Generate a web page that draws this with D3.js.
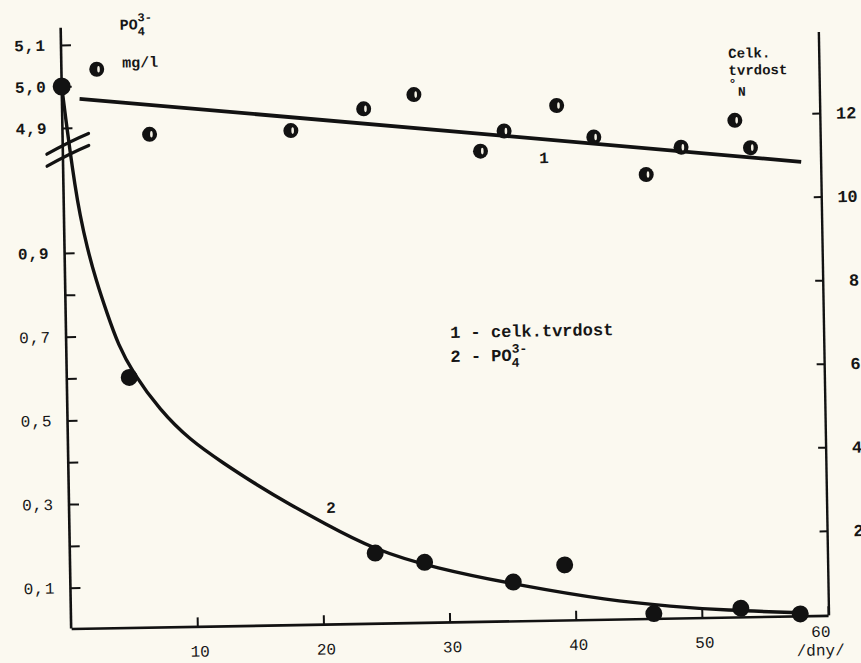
<!DOCTYPE html>
<html>
<head>
<meta charset="utf-8">
<script src="https://cdn.jsdelivr.net/npm/d3@7/dist/d3.min.js"></script>
<style>
  body { margin: 0; background: #fbf9f0; }
  svg { display: block; }
  text { font-family: 'Liberation Mono', 'DejaVu Sans Mono', monospace; fill: #161616; }
</style>
</head>
<body>
<div id="chart-area"></div>
<script>
// series 1 - celk. tvrdost (right axis, degN)
var days1 = [2.8, 6.9, 18.1, 23.9, 27.9, 33.1, 35.0, 39.2, 42.1, 46.2, 49.0, 53.3, 54.5]
var hardness = [13.35, 11.77, 11.8, 12.29, 12.61, 11.23, 11.7, 12.29, 11.52, 10.6, 11.24, 11.86, 11.2]

// straight line 1 (end points)
var lineDays1 = [1.4, 58.5]
var lineHard1 = [12.65, 10.84]

// series 2 - PO4 mg/l (left, broken axis)
var days2 = [0, 4.95, 24.2, 28.1, 35.1, 39.2, 46.2, 53.1, 57.8]
var po4 = [5.0, 0.6, 0.17, 0.146, 0.095, 0.134, 0.014, 0.023, 0.007]

// hand drawn curve 2 (values between 0.9 and 4.9 fall in the axis break)
var curveDays2 = [0, 0.29, 0.56, 0.91, 1.27, 1.78, 2.45, 3.27, 4.14, 5.21, 7.32, 9.67, 12.26, 14.9, 17.5, 20.1, 24.0, 28.8, 35.9, 42.5, 47.7, 51.7, 58.3]
var curvePo4 = [5.0, 4.919, 4.19, 3.07, 2.11, 1.08, 0.834, 0.755, 0.677, 0.613, 0.521, 0.448, 0.392, 0.338, 0.29, 0.245, 0.18, 0.132, 0.085, 0.048, 0.03, 0.019, 0.009]

// ticks
var xTicks = [10, 20, 30, 40, 50, 60]
var leftTicks = [0.1, 0.2, 0.3, 0.4, 0.5, 0.6, 0.7, 0.8, 0.9, 4.9, 5.0, 5.1]
var leftLabels = [0.1, 0.3, 0.5, 0.7, 0.9, 4.9, 5.0, 5.1]
var rightTicks = [2, 4, 6, 8, 10, 12]

var W = 861
var H = 663
var ink = '#121212'

var svg = d3.select('#chart-area')
  .append('svg')
  .attr('width', W)
  .attr('height', H)

svg.append('rect')
  .attr('width', W)
  .attr('height', H)
  .attr('fill', '#fbf9f0')

// the scanned page sits a little crooked
var g = svg.append('g')
  .attr('transform', 'rotate(-1 445 330)')

// Scales
var x = d3.scaleLinear().domain([0, 60]).range([66, 823])
// broken axis: 0..0.9 below the break, 4.9..5.1 above it
var yLeft = d3.scaleLinear()
  .domain([0, 0.9, 4.9, 5.1])
  .range([623, 246.4, 121.3, 38.3])
var yRight = d3.scaleLinear().domain([0, 12]).range([621, 119.6])

var axisY = 622
var rightX = 824

// X axis
var xAxisGroup = g.append('g')
  .attr('transform', 'translate(0, ' + axisY + ')')
  .call(d3.axisBottom(x)
    .tickValues(xTicks)
    .tickSizeInner(-9)
    .tickSizeOuter(0)
    .tickPadding(19)
    .tickFormat(d3.format('d')))
xAxisGroup.select('.domain').attr('stroke', ink).attr('stroke-width', 2.6)
xAxisGroup.selectAll('.tick line').attr('stroke', ink).attr('stroke-width', 2)
xAxisGroup.selectAll('.tick text')
  .attr('font-size', '16px')
  .attr('font-family', "'DejaVu Sans Mono', monospace")
  .attr('fill', '#2a2a2a')
  .attr('dx', function (d) { return d === 60 ? -8 : 2 })
  .attr('dy', function (d) { return d === 60 ? '0.15em' : '0.71em' })

g.append('text')
  .attr('x', x(60) - 8)
  .attr('y', axisY + 40)
  .attr('text-anchor', 'middle')
  .attr('font-size', '16px')
  .attr('font-family', "'DejaVu Sans Mono', monospace")
  .attr('fill', '#2a2a2a')
  .text('/dny/')

// Left axis (PO4)
var leftAxisGroup = g.append('g')
  .attr('transform', 'translate(' + x(0) + ', 0)')
  .call(d3.axisLeft(yLeft)
    .tickValues(leftTicks)
    .tickSizeInner(-10)
    .tickSizeOuter(0)
    .tickPadding(15)
    .tickFormat(function (d) {
      return leftLabels.indexOf(d) >= 0 ? d3.format('.1f')(d).replace('.', ',') : ''
    }))
leftAxisGroup.select('.domain').remove()
leftAxisGroup.selectAll('.tick line').attr('stroke', ink).attr('stroke-width', 2)
leftAxisGroup.selectAll('.tick text')
  .attr('font-size', '16px')
  .attr('letter-spacing', '1px')
  .attr('font-weight', function (d) { return d >= 0.9 ? 'bold' : 'normal' })
  .attr('fill', function (d) { return d >= 0.9 ? ink : '#333' })

g.append('line')
  .attr('x1', x(0)).attr('x2', x(0))
  .attr('y1', 21).attr('y2', axisY)
  .attr('stroke', ink)
  .attr('stroke-width', 2.6)

// break marks on the left axis
var yb = yLeft(4.9)
;[0, 12].forEach(function (off) {
  g.append('path')
    .attr('d', 'M' + (x(0) - 16) + ',' + (yb + 26 + off) +
      ' Q' + (x(0) + 6) + ',' + (yb + 14 + off) + ' ' + (x(0) + 26) + ',' + (yb + 6 + off))
    .attr('fill', 'none')
    .attr('stroke', ink)
    .attr('stroke-width', 3.2)
    .attr('stroke-linecap', 'round')
})

// Right axis (hardness)
var rightAxisGroup = g.append('g')
  .attr('transform', 'translate(' + rightX + ', 0)')
  .call(d3.axisRight(yRight)
    .tickValues(rightTicks)
    .tickSizeInner(-8)
    .tickSizeOuter(0))
rightAxisGroup.select('.domain').remove()
rightAxisGroup.selectAll('.tick line').attr('stroke', ink).attr('stroke-width', 2)
rightAxisGroup.selectAll('.tick text')
  .attr('x', 36)
  .attr('text-anchor', 'end')
  .attr('font-size', '17px')
  .attr('font-weight', 'bold')

g.append('line')
  .attr('x1', rightX).attr('x2', rightX)
  .attr('y1', 38.5).attr('y2', axisY)
  .attr('stroke', ink)
  .attr('stroke-width', 2.4)

// line 1
var hardLine = d3.line()
  .x(function (d) { return x(d[0]) })
  .y(function (d) { return yRight(d[1]) })
g.append('path')
  .datum(d3.zip(lineDays1, lineHard1))
  .attr('d', hardLine)
  .attr('fill', 'none')
  .attr('stroke', ink)
  .attr('stroke-width', 3.8)

// curve 2
var poLine = d3.line()
  .curve(d3.curveBasis)
  .x(function (d) { return x(d[0]) })
  .y(function (d) { return yLeft(d[1]) })
g.append('path')
  .datum(d3.zip(curveDays2, curvePo4))
  .attr('d', poLine)
  .attr('fill', 'none')
  .attr('stroke', ink)
  .attr('stroke-width', 3.4)
  .attr('stroke-linecap', 'round')

// PO4 points
g.selectAll('circle.po4')
  .data(d3.zip(days2, po4))
  .enter().append('circle')
  .attr('class', 'po4')
  .attr('cx', function (d) { return x(d[0]) })
  .attr('cy', function (d) { return yLeft(d[1]) })
  .attr('r', function (d) { return d[0] === 0 ? 9 : 8.5 })
  .attr('fill', ink)

// hardness points: dark disc with a light slit
var hp = g.selectAll('g.hard')
  .data(d3.zip(days1, hardness))
  .enter().append('g')
  .attr('class', 'hard')
  .attr('transform', function (d) { return 'translate(' + x(d[0]) + ',' + yRight(d[1]) + ')' })
hp.append('circle').attr('r', 7.5).attr('fill', ink)
hp.append('ellipse')
  .attr('cx', 1.8)
  .attr('rx', 1.3)
  .attr('ry', 3.3)
  .attr('fill', '#f3f0e4')

// curve labels
g.append('text')
  .attr('x', 547).attr('y', 165)
  .attr('text-anchor', 'middle')
  .attr('font-size', '16px')
  .attr('font-weight', 'bold')
  .text('1')
g.append('text')
  .attr('x', 328).attr('y', 511)
  .attr('text-anchor', 'middle')
  .attr('font-size', '16px')
  .attr('font-weight', 'bold')
  .text('2')

// left axis title
var po4Title = g.append('text')
  .attr('x', 125).attr('y', 24)
  .attr('font-size', '15px')
  .attr('font-weight', 'bold')
po4Title.append('tspan').text('PO')
po4Title.append('tspan').attr('dy', -8).attr('font-size', '12px').text('3-')
po4Title.append('tspan').attr('dx', -14.4).attr('dy', 14).attr('font-size', '12px').text('4')

g.append('text')
  .attr('x', 127).attr('y', 62)
  .attr('font-size', '15px')
  .attr('font-weight', 'bold')
  .text('mg/l')

// right axis title
g.append('text')
  .attr('x', 733).attr('y', 63)
  .attr('font-size', '14px')
  .attr('font-weight', 'bold')
  .text('Celk.')
g.append('text')
  .attr('x', 733).attr('y', 80)
  .attr('font-size', '14px')
  .attr('font-weight', 'bold')
  .text('tvrdost')
g.append('text')
  .attr('x', 733).attr('y', 93)
  .attr('font-size', '13px')
  .attr('font-weight', 'bold')
  .text('°')
g.append('text')
  .attr('x', 742).attr('y', 101)
  .attr('font-size', '13px')
  .attr('font-weight', 'bold')
  .text('N')

// legend
g.append('text')
  .attr('x', 450).attr('y', 338)
  .attr('font-size', '17px')
  .attr('font-weight', 'bold')
  .text('1 - celk.tvrdost')
var leg2 = g.append('text')
  .attr('x', 450).attr('y', 362)
  .attr('font-size', '17px')
  .attr('font-weight', 'bold')
leg2.append('tspan').text('2 - PO')
leg2.append('tspan').attr('dy', -8).attr('font-size', '13px').text('3-')
leg2.append('tspan').attr('dx', -15.6).attr('dy', 14).attr('font-size', '13px').text('4')
</script>
</body>
</html>
